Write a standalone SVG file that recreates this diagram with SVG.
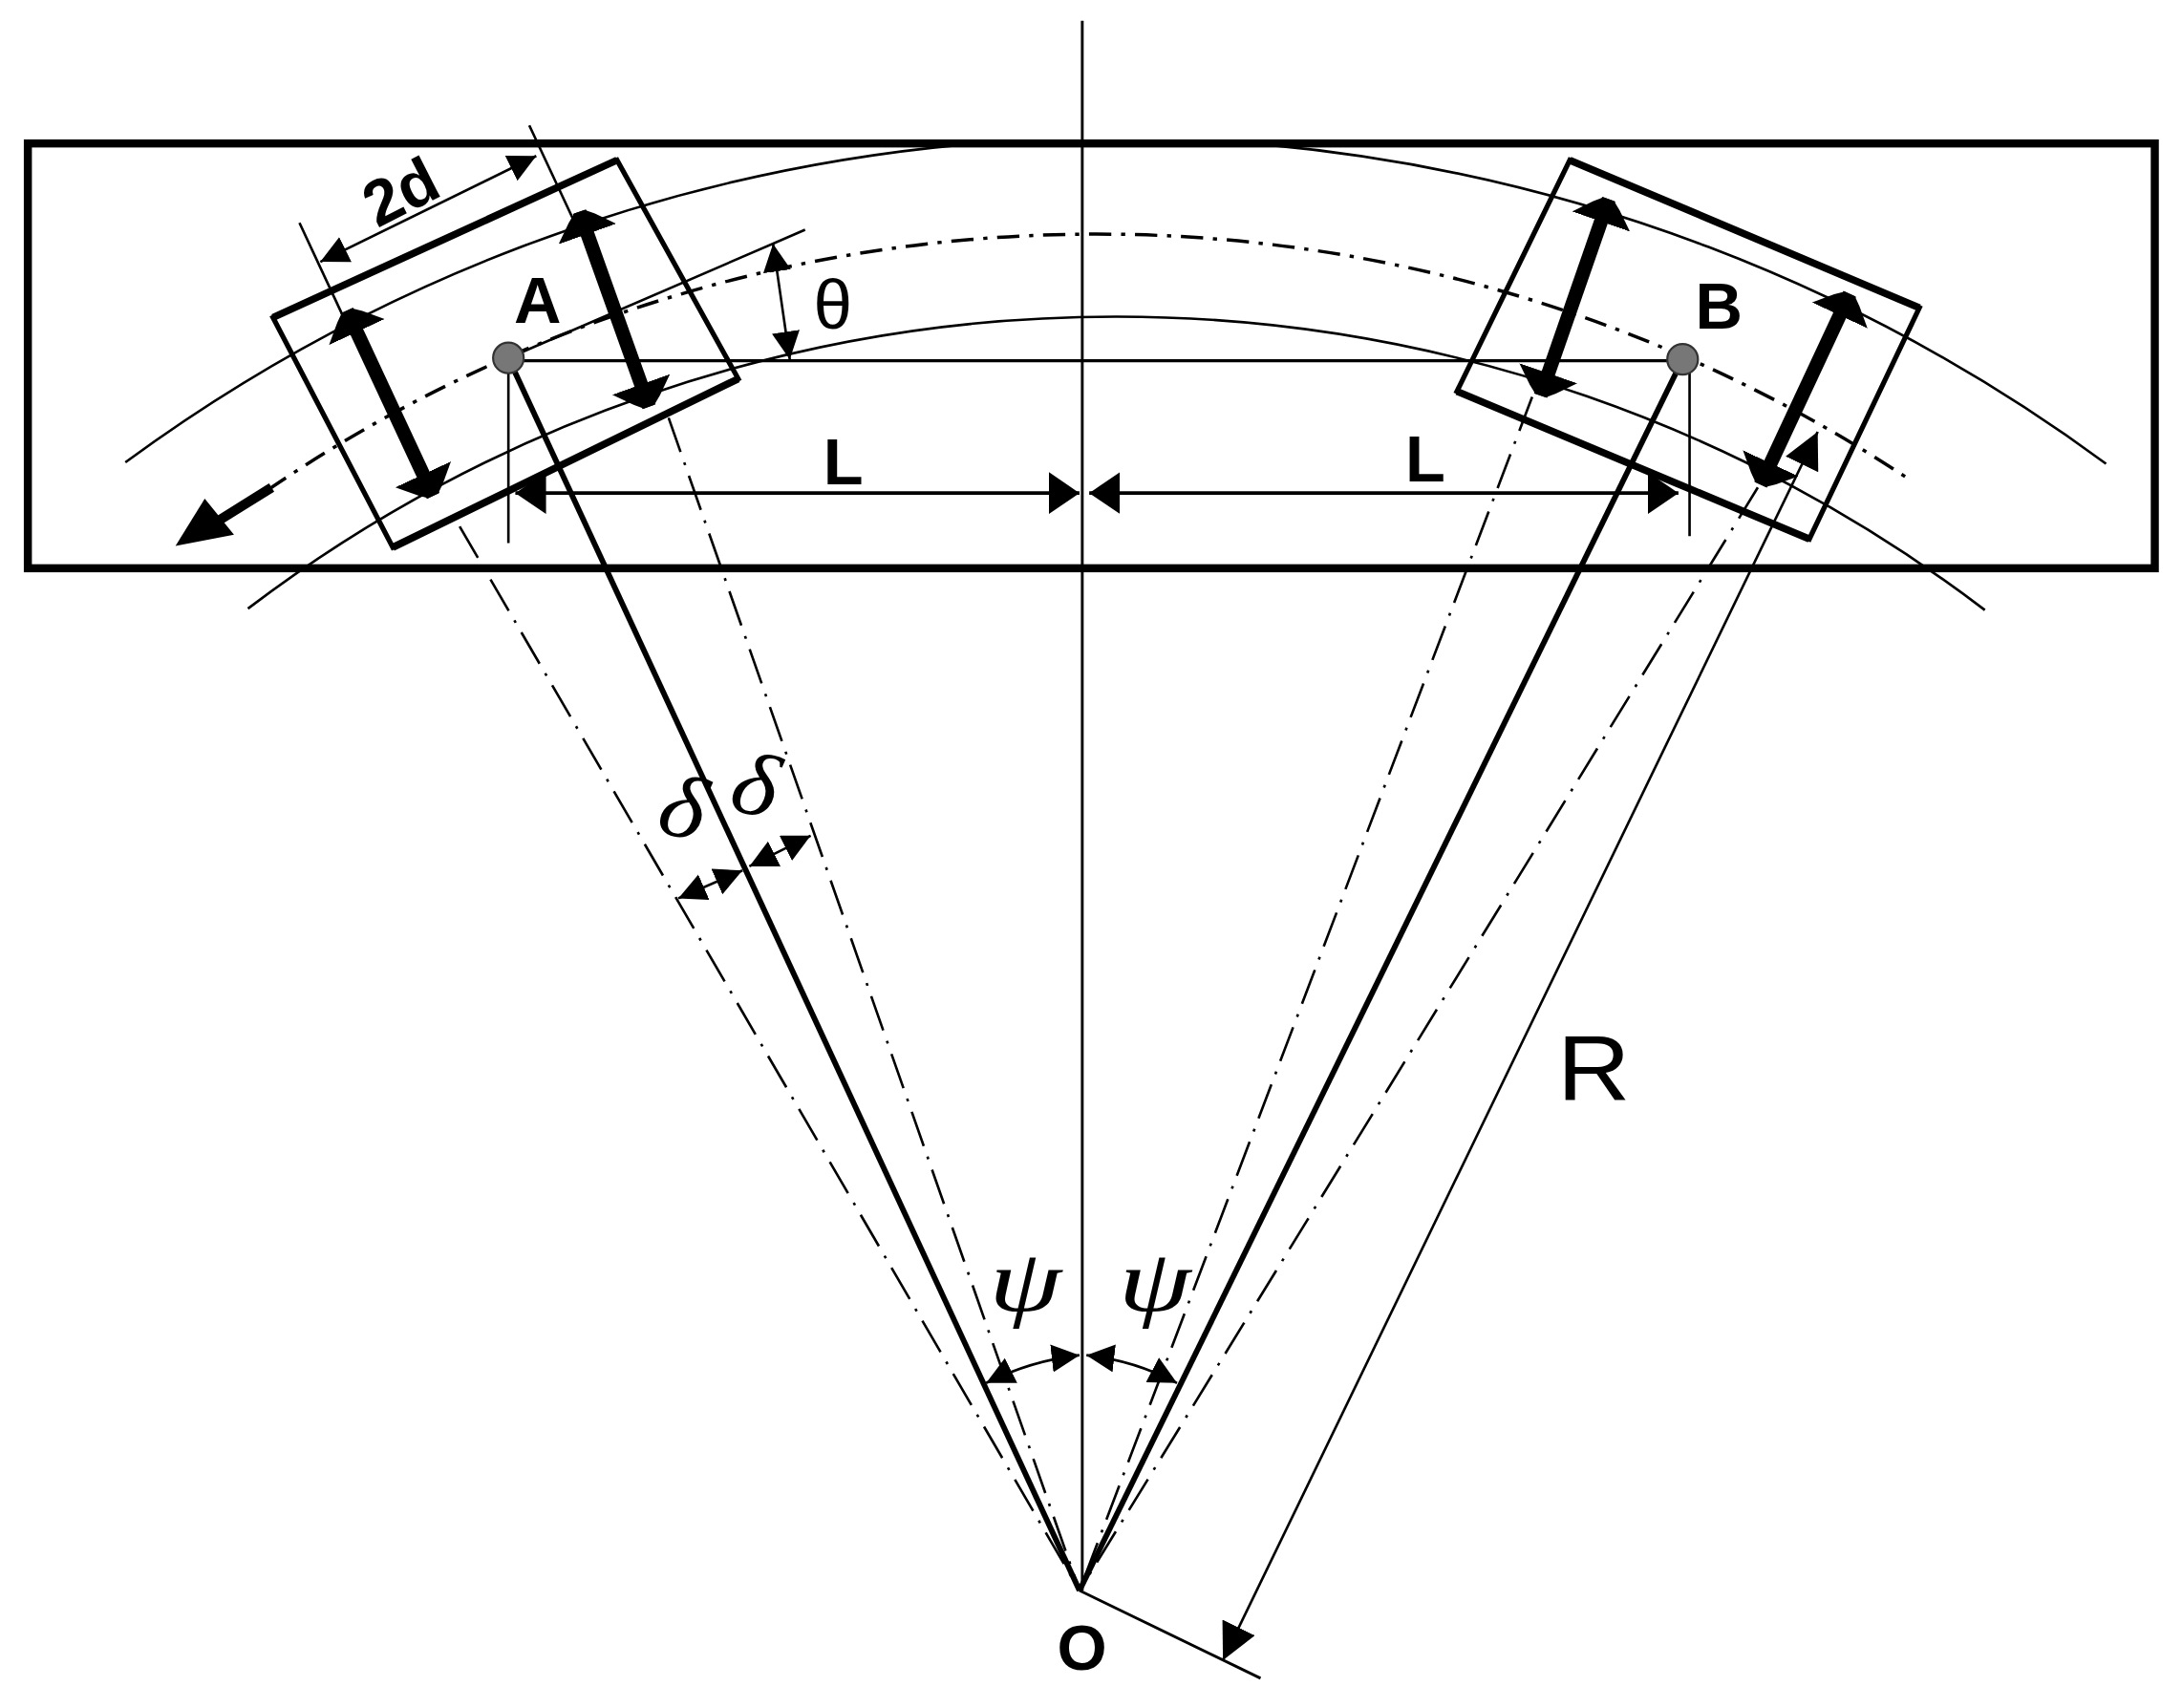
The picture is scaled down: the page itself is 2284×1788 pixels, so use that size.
<svg xmlns="http://www.w3.org/2000/svg" width="2284" height="1788" viewBox="0 0 2284 1788">
<style>
.thin{fill:none;stroke:#000;stroke-width:1.8}
.dd{fill:none;stroke:#000;stroke-width:1.8;stroke-dasharray:26 8 2 8}
.mid{fill:none;stroke:#000;stroke-width:2.4;stroke-dasharray:16 7 3 7}
.thick{fill:none;stroke:#000;stroke-width:4}
.box{fill:none;stroke:#000;stroke-width:3.6;stroke-linejoin:miter}
.edge{fill:none;stroke:#000;stroke-width:5.2}
.wheel{fill:none;stroke:#000;stroke-width:10;marker-start:url(#wh);marker-end:url(#wh)}
.dim{fill:none;stroke:#000;stroke-width:2.6;marker-start:url(#big);marker-end:url(#big)}
.dim2{fill:none;stroke:#000;stroke-width:1.8;marker-start:url(#sm);marker-end:url(#sm)}
.b{font-family:"Liberation Sans",Arial,sans-serif;font-weight:bold;fill:#000}
.r{font-family:"Liberation Sans",Arial,sans-serif;fill:#000}
.g{font-family:"Liberation Serif","Times New Roman",serif;font-style:italic;fill:#000}
.dot{fill:#777;stroke:#333;stroke-width:1.5}
</style>
<defs>
<marker id="big" markerUnits="userSpaceOnUse" markerWidth="24" markerHeight="32" refX="22" refY="15" orient="auto-start-reverse"><path d="M0 0L22 15L0 30Z"/></marker>
<marker id="sm" markerUnits="userSpaceOnUse" markerWidth="22" markerHeight="22" refX="20" refY="10" orient="auto-start-reverse"><path d="M0 0L20 10L0 20Z"/></marker>
<marker id="rad" markerUnits="userSpaceOnUse" markerWidth="28" markerHeight="28" refX="26" refY="13" orient="auto-start-reverse"><path d="M0 0L26 13L0 26Z"/></marker>
<marker id="wh" markerUnits="userSpaceOnUse" markerWidth="20" markerHeight="46" refX="17" refY="22" orient="auto-start-reverse"><path d="M0 0L12 12L17 18L17 26L12 32L0 44Z"/></marker>
</defs>
<g transform="scale(1.458)">
<g id="connectors">
<path class="thin" d="M90 332A1200 1200 0 0 1 690 104M910 104A1200 1200 0 0 1 1512 333"/>
<path class="thin" d="M178 437A1030 1030 0 0 1 1425 438"/>
<path class="mid" d="M192 352A1055 1055 0 0 1 1372 345"/>
<path class="thin" style="stroke-width:2" d="M777 15V1142"/>
<path class="thin" style="stroke-width:2.2" d="M365 259H1208"/>
<path class="thin" d="M365 259V390M1213 258V385"/>
<path class="thin" d="M365 257L578 165"/>
<path class="thick" d="M365 257L775 1142"/>
<path class="thick" d="M1208 258L775 1142"/>
<path class="dd" d="M330 378L775 1142M480 300L775 1142M1100 285L775 1142M1262 350L775 1142"/>
<path class="thin" d="M215 160L250 235M380 90L415 165"/>
<path class="thin" style="stroke-width:2" d="M775 1142L905 1205"/>
<path class="dim" d="M370 354H775"/>
<path class="dim" d="M782 354H1205"/>
<path class="dim2" d="M230 188L385 112"/>
<path class="dim2" d="M555 175L567 258"/>
<path class="dim2" d="M487 645L533 625"/>
<path class="dim2" d="M538 622L582 600"/>
<path class="dim2" d="M708 993Q740 977 775 973"/>
<path class="dim2" d="M780 973Q815 977 845 993"/>
<path class="thin" marker-start="url(#rad)" marker-end="url(#rad)" d="M1305 310L878 1192"/>
<path fill="none" stroke="#000" stroke-width="7" d="M195 350L155 375"/>
<polygon points="126,392 147,358 168,384"/>
</g>
<g id="track-frame"><rect x="20" y="103" width="1527" height="305" fill="none" stroke="#000" stroke-width="5.8"/></g>
<g id="vehicle-a">
<polygon class="box" points="196,228 443,115 530,272 282,393"/>
<path class="edge" d="M196 228L443 115M530 272L282 393"/>
<path class="wheel" d="M249 223L311 356"/>
<path class="wheel" d="M416 152L466 292"/>
<ellipse class="dot" cx="365" cy="257" rx="11" ry="11"/>
<text class="b" x="369" y="232" font-size="47">A</text>
</g>
<g id="vehicle-b">
<polygon class="box" points="1127,115 1378,221 1299,387 1046,281"/>
<path class="edge" d="M1127 115L1378 221M1299 387L1046 281"/>
<path class="wheel" d="M1155 143L1106 284"/>
<path class="wheel" d="M1328 211L1264 348"/>
<ellipse class="dot" cx="1208" cy="258" rx="11" ry="11"/>
<text class="b" x="1217" y="236" font-size="47">B</text>
</g>
<g id="labels">
<text class="b" x="591" y="348" font-size="47">L</text>
<text class="b" x="1009" y="346" font-size="47">L</text>
<text class="b" font-size="46" transform="translate(271 164) rotate(-27)">2d</text>
<text class="r" x="584" y="236" font-size="50">θ</text>
<text class="r" font-size="66" transform="translate(1118 790) scale(1.1 1)">R</text>
<text class="b" x="759" y="1199" font-size="46">O</text>
<text class="g" font-size="62" transform="translate(710 941) scale(1.35 1)">ψ</text>
<text class="g" font-size="62" transform="translate(803 941) scale(1.35 1)">ψ</text>
<text class="g" font-size="64" transform="translate(470 597) rotate(12) scale(1.1 1)">δ</text>
<text class="g" font-size="64" transform="translate(522 581) rotate(12) scale(1.1 1)">δ</text>
</g>
</g>
</svg>
